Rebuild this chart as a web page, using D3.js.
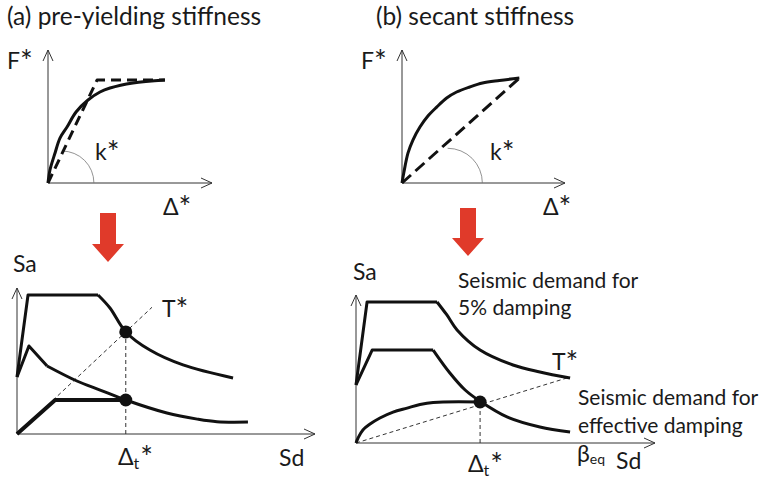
<!DOCTYPE html>
<html>
<head>
<meta charset="utf-8">
<script src="https://cdn.jsdelivr.net/npm/d3@7"></script>
<style>
  html, body { margin: 0; padding: 0; background: #fff; }
  svg { display: block; font-family: Lato, "Open Sans", sans-serif; }
</style>
</head>
<body>
<svg id="fig" width="762" height="482"></svg>
<script>
// ---- (a) pre-yielding stiffness: capacity curve and its bilinear idealisation
const aCapacity = [[0, 0], [1.2, 9.8], [4.3, 22.6], [7.3, 33.8], [11.6, 42.1], [17.1, 53.4],
  [24.4, 62.4], [31.7, 68.4], [37.8, 71.4], [51.8, 75.2], [71.3, 77.4]];
const aBilinear = [[0, 0], [29.9, 77.4], [71.3, 77.4]];
const aAngle = { cx: 8.5, r: 19.5 };

// ---- (b) secant stiffness: capacity curve and secant line
const bCapacity = [[0, 0], [1.2, 8.3], [3.7, 22.6], [6.7, 32.3], [11, 42.1], [15.9, 50.4],
  [21.3, 57.1], [27.4, 63.9], [33.5, 68.4], [41.5, 72.2], [49.4, 75.2], [59.8, 77.1], [72, 78.9]];
const bSecant = [[0, 0], [72, 78.9]];
const bAngle = { cx: 28, r: 21.3 };

// ---- (a) ADRS: elastic spectrum, inelastic spectrum, bilinear capacity
const cSpecRise = [[0, 39], [3.7, 95.2], [27.2, 95.2]];
const cSpecFall = [[27.2, 95.2], [31.2, 86.3], [36.5, 69.9], [44.6, 57.5], [55.7, 47.3], [72.5, 38.4]];
const cInelRise = [[0, 39], [4.0, 60.3], [10.1, 46.6]];
const cInelFall = [[10.1, 46.6], [20.1, 36.3], [27.9, 30.1], [36.5, 23.3], [50.3, 14.4], [60.5, 10.2], [67.1, 8.4], [77.5, 8.2]];
const cCapacity = [[0, 0], [12.8, 23.3], [36.5, 23.3]];
const cPeriod = [[0, 0], [45.3, 86.8]];
const cTarget = 36.5;
const cPoints = [[36.5, 69.9], [36.5, 23.3]];

// ---- (b) ADRS: 5% damped and effectively damped spectra, capacity curve
const dSpecRise = [[0, 39.2], [3.7, 95.3], [27.1, 95.3]];
const dSpecFall = [[27.1, 95.3], [30.4, 86.5], [33.8, 76.4], [41.5, 62.8], [52.5, 52.7], [61.5, 48], [71.6, 43.9]];
const dEffRise = [[0, 39.2], [5.4, 62.8], [25.8, 62.8]];
const dEffFall = [[25.8, 62.8], [31.4, 47.3], [36.5, 35.8], [41.5, 28.2], [50.5, 17.6], [61.5, 10.8], [71.6, 7.4]];
const dCapacity = [[0, 0], [0.7, 3.4], [2.3, 8.8], [4.7, 12.8], [8, 16.9], [12.4, 20.9], [17.1, 23.6],
  [21.4, 26], [25.8, 27.4], [41.5, 27.7]];
const dPeriod = [[0, 0], [71.6, 44.6]];
const dTarget = 41.5;
const dPoints = [[41.5, 27.7]];

const svg = d3.select("#fig");
const INK = "#111";
const smooth = d3.curveCatmullRom.alpha(0.5);

function frame(x0, x1, y0, y1) {
  return {
    x: d3.scaleLinear().domain([0, 100]).range([x0, x1]),
    y: d3.scaleLinear().domain([0, 100]).range([y0, y1])
  };
}

function axes(f) {
  const ox = f.x(0), oy = f.y(0), xe = f.x(100), ye = f.y(100);
  const g = svg.append("g").attr("stroke", "#333").attr("stroke-width", 1).attr("fill", "none");
  g.append("line").attr("x1", ox).attr("y1", oy).attr("x2", xe).attr("y2", oy);
  g.append("line").attr("x1", ox).attr("y1", oy).attr("x2", ox).attr("y2", ye);
  g.append("path").attr("d", `M${xe - 11},${oy - 5}L${xe},${oy}L${xe - 11},${oy + 5}`);
  g.append("path").attr("d", `M${ox - 5},${ye + 11}L${ox},${ye}L${ox + 5},${ye + 11}`);
}

function line(f, data, curve, opts) {
  const gen = d3.line().x(d => f.x(d[0])).y(d => f.y(d[1])).curve(curve || d3.curveLinear);
  const p = svg.append("path").attr("d", gen(data)).attr("fill", "none")
    .attr("stroke", opts.color || INK).attr("stroke-width", opts.width || 3)
    .attr("stroke-linejoin", "round").attr("stroke-linecap", opts.cap || "butt");
  if (opts.dash) p.attr("stroke-dasharray", opts.dash);
  return p;
}

function angleArc(f, a) {
  const cx = f.x(a.cx), cy = f.y(0);
  const r = f.x(a.cx + a.r) - f.x(a.cx);
  svg.append("path").attr("d", `M${cx},${cy - r}A${r},${r} 0 0 1 ${cx + r},${cy}`)
    .attr("fill", "none").attr("stroke", "#777").attr("stroke-width", 0.8);
}

function text(x, y, s, size, anchor) {
  return svg.append("text").attr("x", x).attr("y", y).attr("font-size", size)
    .attr("fill", "#1a1a1a").attr("text-anchor", anchor || "start").text(s);
}

// symbol followed by a large asterisk, e.g. F*, k*, T*
function starred(x, y, s) {
  const t = text(x, y, s, 23);
  t.append("tspan").attr("font-size", 30).attr("dy", 3).text("*");
  return t;
}

function deltaT(x, y) {
  const t = text(x, y, "Δ", 23);
  t.append("tspan").attr("font-size", 16).attr("dy", 4).text("t");
  t.append("tspan").attr("font-size", 30).attr("dy", -1).attr("dx", 1).text("*");
}

function downArrow(cx, top, bottom) {
  const sw = 8, hw = 16, hh = 18;
  const pts = [[cx - sw, top], [cx + sw, top], [cx + sw, bottom - hh], [cx + hw, bottom - hh],
    [cx, bottom], [cx - hw, bottom - hh], [cx - sw, bottom - hh]];
  svg.append("polygon").attr("points", pts.map(p => p.join(",")).join(" ")).attr("fill", "#e03a2a");
}

// titles
text(7, 25, "(a) pre-yielding stiffness", 24.5);
text(376, 25, "(b) secant stiffness", 24.5);

// ---- panel (a) top
const A = frame(48, 212, 183, 50);
axes(A);
angleArc(A, aAngle);
line(A, aBilinear, d3.curveLinear, { dash: "10,6", width: 3 });
line(A, aCapacity, smooth, { width: 3 });
starred(7, 69, "F");
starred(95, 160, "k");
starred(163, 215, "Δ");

// ---- panel (b) top
const B = frame(402, 565, 183, 50);
axes(B);
angleArc(B, bAngle);
line(B, bSecant, d3.curveLinear, { dash: "12,6", width: 3 });
line(B, bCapacity, smooth, { width: 3 });
starred(361, 69, "F");
starred(490, 160, "k");
starred(543, 215, "Δ");

// red arrows
downArrow(108, 213, 262);
downArrow(468, 208, 256);

// ---- panel (a) bottom
const C = frame(17, 315, 434, 288);
axes(C);
line(C, cPeriod, d3.curveLinear, { dash: "4,3", width: 1, color: "#333" });
line(C, [[cTarget, 0], [cTarget, cPoints[0][1]]], d3.curveLinear, { dash: "4,3", width: 1, color: "#333" });
line(C, cSpecRise, d3.curveLinear, { width: 3 });
line(C, cSpecFall, smooth, { width: 3 });
line(C, cInelRise, d3.curveLinear, { width: 3 });
line(C, cInelFall, smooth, { width: 3 });
line(C, cCapacity, d3.curveLinear, { width: 4 });
svg.append("g").selectAll("circle").data(cPoints).join("circle")
  .attr("cx", d => C.x(d[0])).attr("cy", d => C.y(d[1])).attr("r", 6.5).attr("fill", INK);
text(13, 272, "Sa", 23);
starred(162, 317, "T");
deltaT(118, 465);
text(279, 466, "Sd", 23);

// ---- panel (b) bottom
const D = frame(356, 655, 443, 295);
axes(D);
line(D, dPeriod, d3.curveLinear, { dash: "4,3", width: 1, color: "#333" });
line(D, [[dTarget, 0], [dTarget, dPoints[0][1]]], d3.curveLinear, { dash: "4,3", width: 1, color: "#333" });
line(D, dSpecRise, d3.curveLinear, { width: 3 });
line(D, dSpecFall, smooth, { width: 3 });
line(D, dEffRise, d3.curveLinear, { width: 3 });
line(D, dEffFall, smooth, { width: 3 });
line(D, dCapacity, smooth, { width: 3 });
svg.append("g").selectAll("circle").data(dPoints).join("circle")
  .attr("cx", d => D.x(d[0])).attr("cy", d => D.y(d[1])).attr("r", 6.5).attr("fill", INK);
text(353, 280, "Sa", 23);
starred(552, 370, "T");
text(458, 288, "Seismic demand for", 21);
text(458, 315, "5% damping", 21);
text(578, 405, "Seismic demand for", 21);
text(578, 433, "effective damping", 21);
const be = text(577, 462, "β", 23);
be.append("tspan").attr("font-size", 14).attr("dy", 2).text("eq");
text(616, 469, "Sd", 23);
deltaT(468, 472);
</script>
</body>
</html>
